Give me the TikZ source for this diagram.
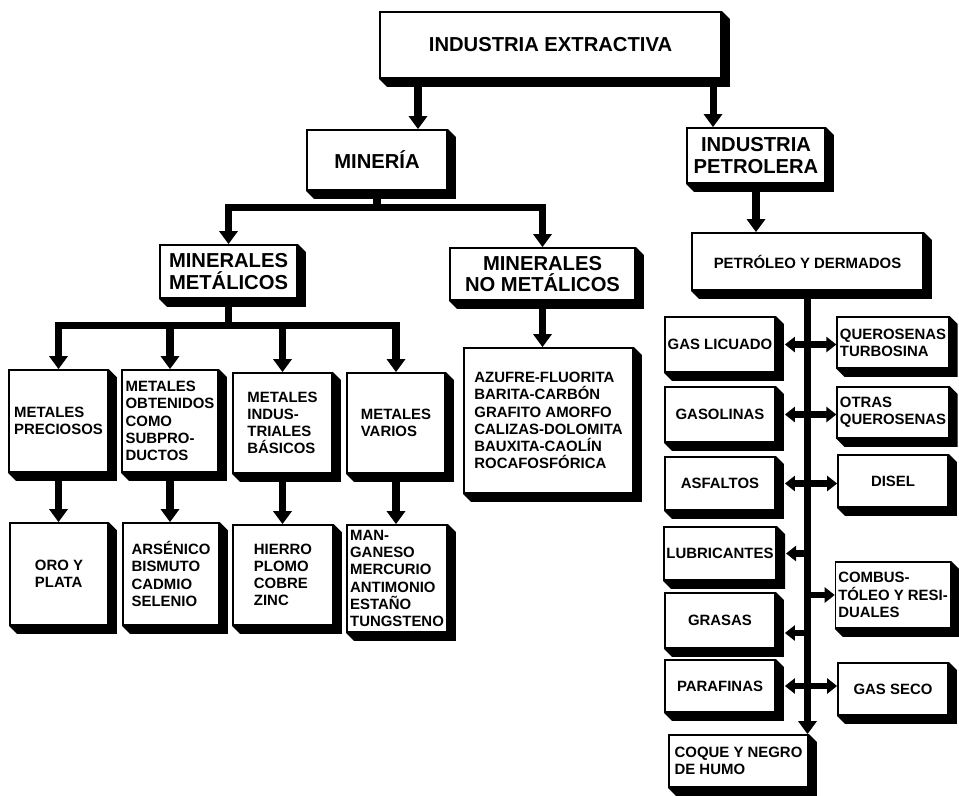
\documentclass[tikz,border=0pt]{standalone}
\usepackage{fontspec}
\setmainfont{Liberation Sans}
\usepackage{tikz}
\usetikzlibrary{arrows.meta,positioning,backgrounds}
\tikzset{
caja/.style={rectangle,draw=black,line width=1pt,fill=white,inner sep=1.5pt,align=left,font=\fontsize{8.5}{9.8}\selectfont\bfseries},
titulo/.style={caja,align=center,font=\fontsize{11.5}{12.3}\selectfont\bfseries},
sz/.style 2 args={minimum width=#1*0.02cm,minimum height=#2*0.02cm},
flecha/.style={line width=4pt,-{Triangle[width=0.36cm,length=0.26cm]}},
flechita/.style={line width=3.5pt,-{Triangle[width=0.3cm,length=0.2cm]}},
doble/.style={line width=3.5pt,{Triangle[width=0.3cm,length=0.2cm]}-{Triangle[width=0.3cm,length=0.2cm]}}
}

\begin{document}
\begin{tikzpicture}[x=0.02cm,y=-0.02cm]
\useasboundingbox (0,0) rectangle (959,795);
% niveles superiores
\node at (550.5,45)[titulo,sz={341}{66}](ext){INDUSTRIA EXTRACTIVA};
\node at (377,160)[titulo,sz={140}{60}](min){MINERÍA};
\node at (756,155.5)[titulo,sz={138}{55}](pet){INDUSTRIA\\PETROLERA};
\node at (807.5,261.5)[caja,sz={231}{57}](der){PETRÓLEO Y DERMADOS};
\node at (228.5,271.5)[titulo,sz={137}{53}](met){MINERALES\\METÁLICOS};
\node at (542.5,274)[titulo,sz={185}{52}](nomet){MINERALES\\NO METÁLICOS};
% metalicos
\node at (58.5,421)[caja,sz={99}{102}](pre){METALES\\PRECIOSOS};
\node at (170,421)[caja,sz={96}{102}](obt){METALES\\OBTENIDOS\\COMO\\SUBPRO-\\DUCTOS};
\node at (282.5,423)[caja,sz={99}{100}](ind){METALES\\INDUS-\\TRIALES\\BÁSICOS};
\node at (396,423)[caja,sz={98}{100}](var){METALES\\VARIOS};
\node at (59,574)[caja,sz={98}{102}](oro){ORO Y\\PLATA};
\node at (171,574)[caja,sz={96}{102}](ars){ARSÉNICO\\BISMUTO\\CADMIO\\SELENIO};
\node at (283,575)[caja,sz={100}{100}](hie){HIERRO\\PLOMO\\COBRE\\ZINC};
\node at (397,578.5)[caja,sz={100}{107}](man){MAN-\\GANESO\\MERCURIO\\ANTIMONIO\\ESTAÑO\\TUNGSTENO};
% no metalicos
\node at (548.5,420.5)[caja,sz={169}{145}](azu){AZUFRE-FLUORITA\\BARITA-CARBÓN\\GRAFITO AMORFO\\CALIZAS-DOLOMITA\\BAUXITA-CAOLÍN\\ROCAFOSFÓRICA};
% derivados
\node at (720,344.5)[caja,sz={110}{55}](gl){GAS LICUADO};
\node at (720,414.5)[caja,sz={110}{55}](gas){GASOLINAS};
\node at (720,483.5)[caja,sz={110}{53}](asf){ASFALTOS};
\node at (720,553.5)[caja,sz={110}{53}](lub){LUBRICANTES};
\node at (720,620.5)[caja,sz={110}{55}](gra){GRASAS};
\node at (720,686)[caja,sz={110}{52}](par){PARAFINAS};
\node at (738.5,761)[caja,sz={139}{52}](coq){COQUE Y NEGRO\\DE HUMO};
\node at (893,342.5)[caja,sz={110}{51}](que){QUEROSENAS\\TURBOSINA};
\node at (893,412.5)[caja,sz={110}{51}](otr){OTRAS\\QUEROSENAS};
\node at (893,481)[caja,sz={110}{52}](dis){DISEL};
\node at (893,595)[caja,sz={110}{66}](com){COMBUS-\\TÓLEO Y RESI-\\DUALES};
\node at (893,689)[caja,sz={110}{52}](gse){GAS SECO};
% sombras
\begin{scope}[on background layer]
\foreach \n in {ext,min,pet,der,met,nomet,pre,obt,ind,var,oro,ars,hie,man,azu,gl,gas,asf,lub,gra,par,coq,que,otr,dis,com,gse}
  \fill (\n.south west) -- ++(8,8) -- ([shift={(8,8)}]\n.south east) -- ([shift={(8,8)}]\n.north east) -- (\n.north east) -- cycle;
\end{scope}
% flechas
\coordinate (m1) at ([xshift=0.82cm]min.north);
\coordinate (p1) at ([xshift=-0.86cm]pet.north);
\draw[flecha] (m1 |- ext.south) -- (m1);
\draw[flecha] (p1 |- ext.south) -- (p1);
\draw[flecha] (pet.south) -- (pet.south |- der.north);
\draw[flecha] (min.south) -- ++(0,17) -| (met.north);
\draw[flecha] (min.south) -- ++(0,17) -| (nomet.north);
\draw[flecha] (nomet.south) -- (nomet.south |- azu.north);
\foreach \a/\b in {pre/oro,obt/ars,ind/hie,var/man}{
  \draw[flecha] (met.south) -- ++(0,27) -| (\a.north);
  \draw[flecha] (\a.south) -- (\a.south |- \b.north);
}
\draw[flecha] (der.south) -- (der.south |- coq.north);
\draw[doble,shorten <=0.18cm] (gl.east) -- (gl.east -| que.west);
\draw[doble,shorten <=0.18cm] (gas.east) -- (gas.east -| otr.west);
\draw[doble,shorten <=0.18cm] (asf.east) -- (asf.east -| dis.west);
\draw[doble,shorten <=0.18cm] (par.east) -- (par.east -| gse.west);
\coordinate (g1) at ([yshift=-0.25cm]gra.east);
\draw[flechita,shorten >=0.18cm] (lub.east -| der.south) -- (lub.east);
\draw[flechita,shorten >=0.18cm] (g1 -| der.south) -- (g1);
\draw[flechita] (der.south |- com.west) -- (com.west);
\end{tikzpicture}
\end{document}
